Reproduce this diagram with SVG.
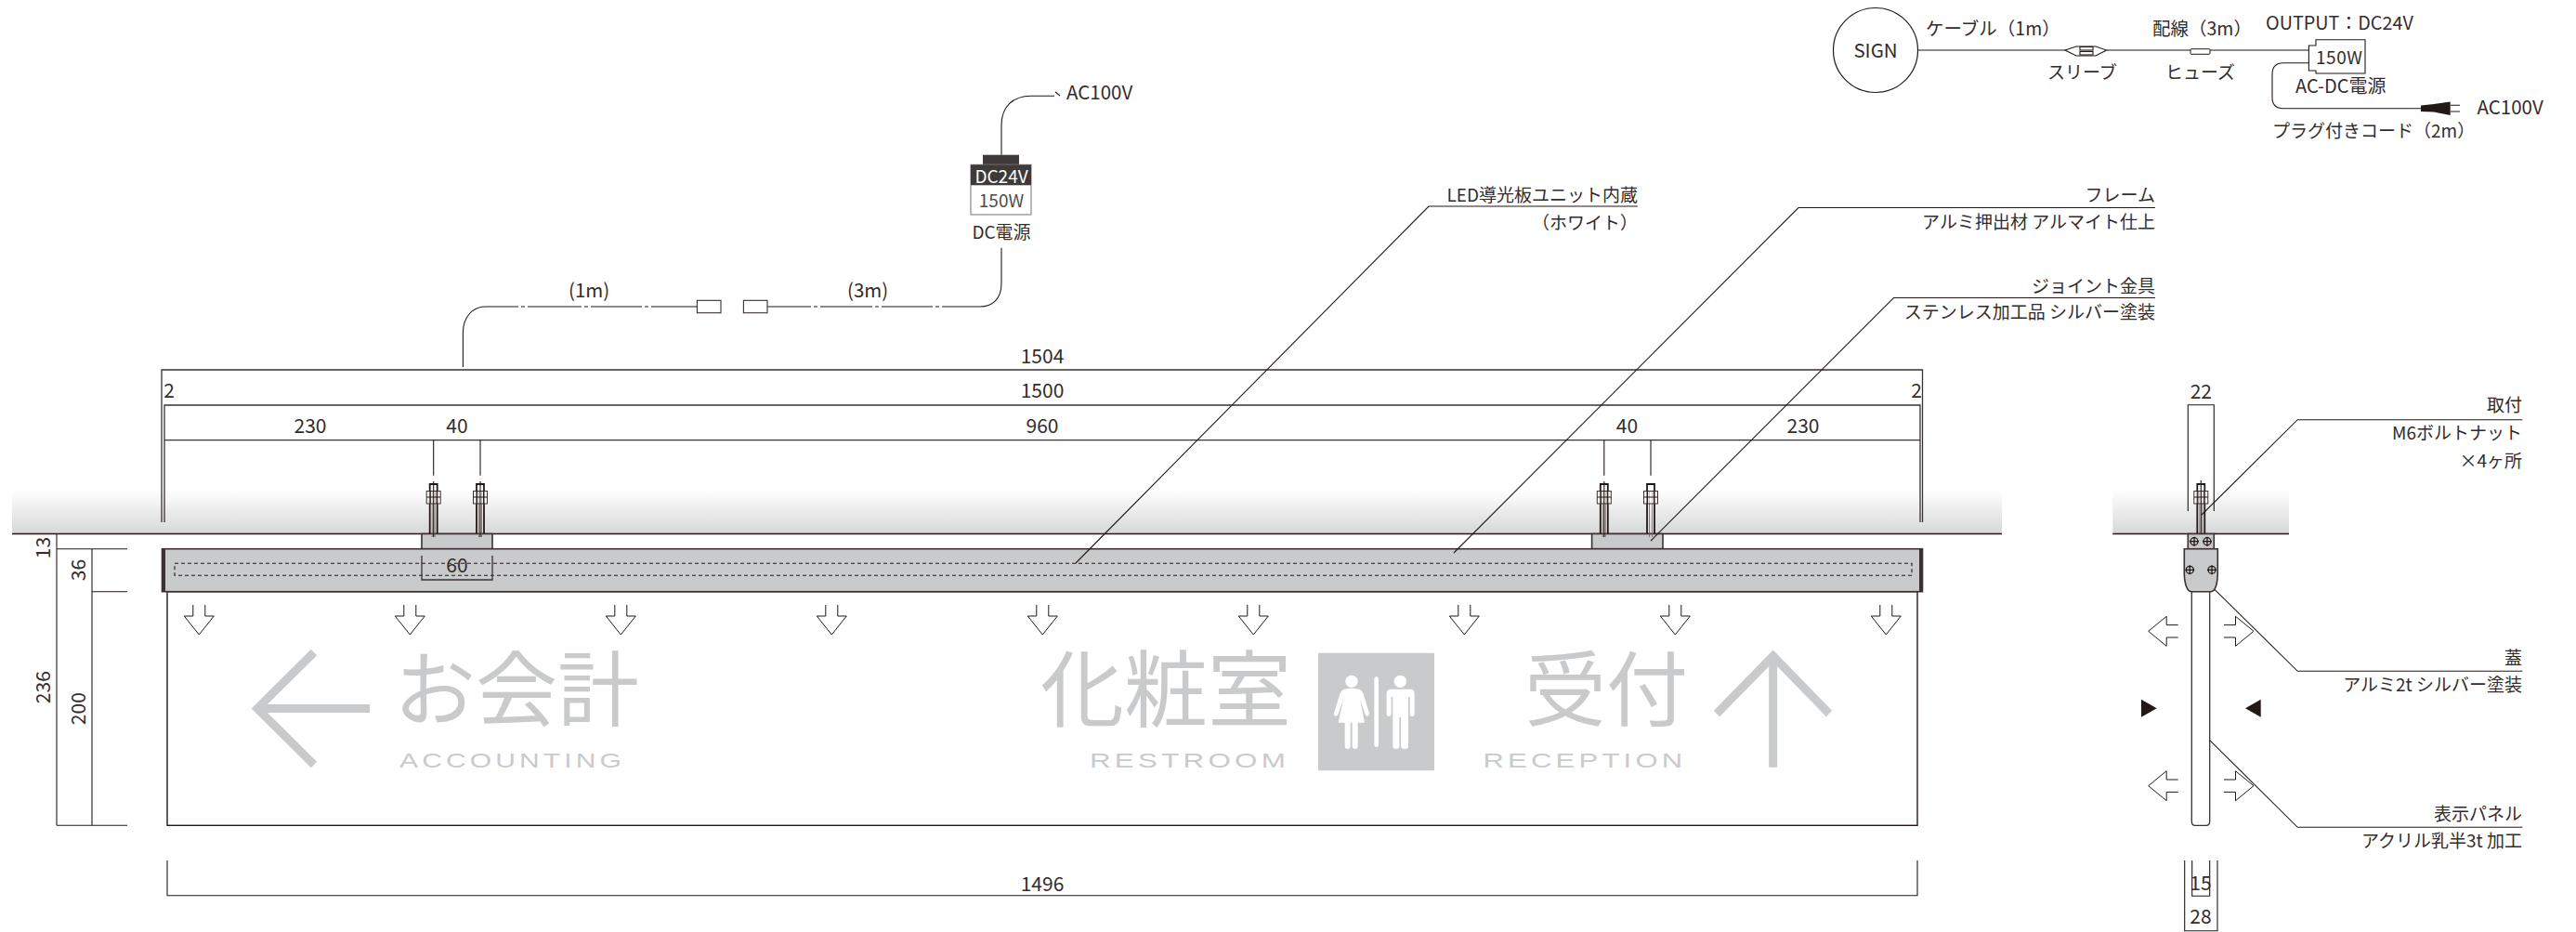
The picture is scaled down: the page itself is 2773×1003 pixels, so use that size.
<svg xmlns="http://www.w3.org/2000/svg" width="2773" height="1003" viewBox="0 0 2773 1003">
<style>
text{font-family:"Noto Sans CJK JP","Noto Sans",sans-serif;font-size:19px;fill:#332c2b}
.d{font-size:21px;text-anchor:middle}
.la{font-size:20.500px}
.r{text-anchor:end}
.m{text-anchor:middle}
.l{fill:none;stroke:#3a3130;stroke-width:1.300}
.t{fill:none;stroke:#231815;stroke-width:1.100}
.g{fill:#c9cacb;stroke:#3a3130;stroke-width:1.600}
.sg{fill:#c9cacb}
.big{font-size:90px;fill:#c9cacb}
.en{font-family:"Liberation Sans",sans-serif;font-size:22px;fill:#c9cacb;letter-spacing:3px}
.ar{fill:none;stroke:#c9cacb;stroke-width:9;stroke-miterlimit:10}
.a{fill:none;stroke:#231815;stroke-width:1}
</style>
<defs>
<linearGradient id="ceil" x1="0" y1="0" x2="0" y2="1"><stop offset="0" stop-color="#fff"/><stop offset="1" stop-color="#d6d7d8"/></linearGradient>
<g id="down"><path class="a" d="M-6.500 0V12H-16L0 32 16 12H6.500V0"/></g>
<g id="side"><path class="a" d="M32 -6.700H19.500V-16L0 0 19.500 16V6.700H32"/></g>
<g id="bolt">
<path d="M-4 53V0H4V53" style="fill:none;stroke:#231815;stroke-width:1.800"/>
<path d="M-1.500 8V57M1.500 8V57" style="fill:none;stroke:#6b6463;stroke-width:.8"/>
<rect x="-7.500" y="7.500" width="15" height="13.500" fill="#fff" fill-opacity=".5" stroke="#3a3130" stroke-width="1"/>
<path d="M-7.500 14H7.500M-3.500 7.500V21M3.500 7.500V21" class="t"/>
</g>
<g id="screw"><circle r="4" fill="#c9cacb" stroke="#231815" stroke-width="1.300"/><path d="M-5 0H5M0 -5V5" stroke="#231815" stroke-width="1.300"/></g>
</defs>

<g id="ceilings">
<rect x="13" y="527" width="2142" height="47.500" fill="url(#ceil)"/>
<path class="l" d="M13 574.500H2155" style="stroke-width:1.600;stroke:#231815"/>
<rect x="2274.300" y="527" width="189.700" height="47.500" fill="url(#ceil)"/>
<path class="l" d="M2274.300 574.500H2464" style="stroke-width:1.600;stroke:#231815"/>
</g>

<g id="front-view">
<rect id="panel" x="180" y="636.700" width="1884" height="251.600" fill="#fff" stroke="#231815" stroke-width="1.400"/>
<rect x="454" y="574.500" width="76" height="16.200" class="g"/>
<rect x="1713.600" y="574.500" width="76.400" height="16.200" class="g"/>
<rect id="frame" x="174.500" y="590.700" width="1895" height="46" class="g"/>
<path d="M176.500 591V636.500M2067.500 591V636.500" stroke="#3a3130" stroke-width="3" fill="none"/>
<rect x="188" y="606.300" width="1870" height="13" fill="none" stroke="#231815" stroke-width="1.100" stroke-dasharray="4 3"/>
<use href="#bolt" x="466.700" y="521"/>
<use href="#bolt" x="517" y="521"/>
<use href="#bolt" x="1726.800" y="521"/>
<use href="#bolt" x="1777" y="521"/>
<g id="arrows-down">
<use href="#down" x="214.300" y="651"/><use href="#down" x="441.300" y="651"/><use href="#down" x="668.300" y="651"/>
<use href="#down" x="895.300" y="651"/><use href="#down" x="1122.300" y="651"/><use href="#down" x="1349.300" y="651"/>
<use href="#down" x="1576.300" y="651"/><use href="#down" x="1803.300" y="651"/><use href="#down" x="2030.300" y="651"/>
</g>
</g>

<g id="sign-graphics">
<path class="ar" d="M338 702L277 762.500 338 823M277 762.500H398"/>
<text class="big" style="font-size:88px" x="424" y="774">お会計</text>
<text class="en" x="430" y="826" textLength="243" lengthAdjust="spacingAndGlyphs">ACCOUNTING</text>
<text class="big" x="1120" y="775">化粧室</text>
<text class="en" x="1173" y="826" textLength="215" lengthAdjust="spacingAndGlyphs">RESTROOM</text>
<g id="pictogram">
<rect x="1419" y="702.700" width="125" height="126.600" rx="1" class="sg"/>
<g transform="translate(1420 700) scale(.3333)" fill="#fff">
<circle cx="105" cy="100" r="20"/><circle cx="262" cy="100" r="20"/>
<rect x="178" y="85" width="14" height="227" rx="7"/>
<path d="M82 125Q105 120 130 125 138 127 142 138L162 203Q163 210 156 212 150 212 148 205L132 158 147 233H125V310Q125 318 116 318 107 318 107 310V233H101V310Q101 318 92 318 83 318 83 310V233H62L78 158 62 205Q60 212 53 212 46 210 48 203L68 138Q72 127 82 125Z"/>
<path d="M232 125H294Q308 125 308 140V205Q308 213 300 213 293 213 293 205V150H288V310Q288 318 277 318 264 318 264 310V215H259V310Q259 318 248 318 238 318 238 310V150H233V205Q233 213 225 213 218 213 218 205V140Q218 125 232 125Z"/>
</g>
</g>
<text class="big" style="font-size:88px" x="1641" y="774">受付</text>
<text class="en" x="1596.400" y="826" textLength="219" lengthAdjust="spacingAndGlyphs">RECEPTION</text>
<path class="ar" d="M1848 768L1908.700 706 1969 768M1908.700 706V825.700"/>
</g>

<g id="dimensions">
<path class="l" d="M174 562V398H2069.500V562"/>
<path class="l" d="M177 562V436H2067V562"/>
<path class="l" d="M177 473.700H2067"/>
<path class="t" d="M466.700 473.700V511.700M517 473.700V511.700M1726.800 473.700V511.700M1777 473.700V511.700M466.700 518V578M517 518V578M1726.800 518V578"/>
<path class="l" d="M454 598V624H530V598"/>
<path class="t" d="M61 888.300V574.500M99 888.300V590.700M61 574.500H137M61 590.700H137M99 636.700H137M61 888.300H137"/>
<path class="t" d="M180 926V963.700H2064V926"/>
<path class="t" d="M2355.300 550V435.700H2383.300V550"/>
<path class="t" d="M2351.700 926V1001.700H2387V926M2359.700 926V964.300H2378.700V926"/>
<text class="d" x="1122" y="390.700">1504</text>
<text class="d" x="1122" y="428">1500</text>
<text class="d" x="182" y="428">2</text>
<text class="d" x="2063" y="428">2</text>
<text class="d" x="334" y="466">230</text>
<text class="d" x="492" y="466">40</text>
<text class="d" x="1122" y="466">960</text>
<text class="d" x="1751.400" y="466">40</text>
<text class="d" x="1941" y="466">230</text>
<text class="d" x="492" y="616">60</text>
<text class="d" transform="translate(53.600 589.500) rotate(-90)">13</text>
<text class="d" transform="translate(91.500 613.500) rotate(-90)">36</text>
<text class="d" transform="translate(53.600 739.700) rotate(-90)">236</text>
<text class="d" transform="translate(91.500 762.700) rotate(-90)">200</text>
<text class="d" x="1122" y="959">1496</text>
<text class="d" x="2369.300" y="429.300">22</text>
<text class="d" x="2369" y="957.700">15</text>
<text class="d" x="2369" y="994">28</text>
</g>

<g id="side-view">
<use href="#bolt" x="2369.300" y="521"/>
<path class="t" d="M2369.300 517V581"/>
<rect x="2355.300" y="574.500" width="28" height="16.200" class="g"/>
<use href="#screw" x="2362" y="582.700"/><use href="#screw" x="2376" y="582.700"/>
<path class="l" d="M2359.300 636.700V884Q2359.300 888.300 2363 888.300H2375Q2378.700 888.300 2378.700 884V636.700"/>
<path class="g" d="M2351.300 590.700H2387.300V616C2387.300 627 2385 636.700 2380 636.700H2359C2354 636.700 2351.300 627 2351.300 616Z"/>
<use href="#screw" x="2357.300" y="613.300"/><use href="#screw" x="2381" y="613.300"/>
<use href="#side" x="2312.700" y="679.300"/>
<use href="#side" transform="translate(2426 679.300) scale(-1 1)"/>
<use href="#side" x="2312.700" y="845.700"/>
<use href="#side" transform="translate(2426 845.700) scale(-1 1)"/>
<path fill="#231815" d="M2305 752.700V771.700L2321.700 762.200ZM2433.700 752.700V771.700L2417 762.200Z"/>
</g>

<g id="connectors">
<path class="t" d="M1763 222H1538L1158 606"/>
<path class="t" d="M2320 223.500H1936L1565 595"/>
<path class="t" d="M2320 320.500H2038.500L1777 582"/>
<path class="t" d="M2715.300 451.700H2473.300L2370 554"/>
<path class="t" d="M2384 634.300L2473.300 722.300H2715.300"/>
<path class="t" d="M2378.700 796.700L2473.300 890.300H2715.300"/>
<path class="t" d="M1135 103.300H1110C1090 103.300 1078 115 1078 135V166.700"/>
<path class="t" d="M1136 99L1141 103"/>
<path class="t" d="M1078 266.700V305C1078 322 1068 330 1055 330H1014M1011 330H1007M1004 330H949M946 330H942M939 330H883M880 330H876M873 330H826"/>
<path class="t" d="M750.400 330H701M698 330H694M691 330H636M633 330H629M626 330H568M565 330H561M558 330H523C508 330 498.400 342 498.400 358V395"/>
<path class="t" d="M2064.300 54H2223M2267.600 54H2358M2379 54H2485.400"/>
<path class="t" d="M2485.400 67.700H2458C2450 67.700 2446 72 2446 80V105C2446 113 2450 116.700 2458 116.700H2606"/>
</g>

<g id="psu-left">
<rect x="1058" y="166.700" width="39" height="11" fill="#3e3a39"/>
<rect x="1045" y="177.300" width="65" height="53.700" fill="#fff" stroke="#8a8a8a" stroke-width="1.200"/>
<rect x="1045" y="177.300" width="65" height="22" fill="#3e3a39"/>
<text class="m" x="1078" y="196.700" style="fill:#fff">DC24V</text>
<text class="m" x="1078" y="223" style="fill:#4d4d4d">150W</text>
<text class="m" x="1078" y="257">DC電源</text>
<text class="la" x="1148" y="106.700">AC100V</text>
</g>
<g id="connector-boxes">
<rect x="750.400" y="323.300" width="25.600" height="13.400" fill="#fff" stroke="#3a3130" stroke-width="1.100"/>
<rect x="800.400" y="323.300" width="25.600" height="13.400" fill="#fff" stroke="#3a3130" stroke-width="1.100"/>
<text class="la" x="612" y="320">(1m)</text>
<text class="la" x="912" y="320">(3m)</text>
</g>

<g id="sign-node">
<circle cx="2019" cy="54" r="45.500" fill="#fff" stroke="#231815" stroke-width="1.200"/>
<text class="m la" x="2019" y="62">SIGN</text>
</g>
<g id="sleeve">
<path class="t" d="M2223 54L2235 50H2256L2267.600 54 2256 60H2235Z"/>
<rect x="2239" y="50.500" width="14" height="3.500" class="t"/>
<rect x="2239" y="55.500" width="14" height="3.500" class="t"/>
<text x="2204" y="85">スリーブ</text>
</g>
<g id="fuse">
<rect x="2358" y="52.700" width="21" height="5.600" rx="1" fill="#fff" stroke="#231815" stroke-width="1"/>
<text x="2331" y="85">ヒューズ</text>
</g>
<g id="psu-right">
<path fill="#fff" stroke="#231815" stroke-width="1.100" d="M2493 42.700H2546V79H2493V76H2485.400V49H2493Z"/>
<text x="2493" y="69" textLength="50">150W</text>
<text style="font-size:20px" x="2471" y="100">AC-DC電源</text>
<text style="font-size:19.800px" x="2439" y="32">OUTPUT：DC24V</text>
</g>
<g id="plug">
<path fill="#231815" d="M2606 113.500L2620 112 2637.700 109.500V124L2620 120.500 2606 120Z"/>
<path class="t" d="M2638 113.300H2648M2638 120H2648"/>
<text class="la" x="2666.500" y="122.700">AC100V</text>
<text x="2446" y="148">プラグ付きコード（2m）</text>
</g>
<g id="top-labels">
<text style="font-size:19.500px" x="2073" y="38">ケーブル（1m）</text>
<text style="font-size:19.500px" x="2317" y="38">配線（3m）</text>
</g>
<g id="notes">
<text class="r" x="1763" y="217">LED導光板ユニット内蔵</text>
<text class="r" x="1763" y="246.500">（ホワイト）</text>
<text class="r" x="2320" y="217">フレーム</text>
<text class="r" x="2320" y="245.500">アルミ押出材 アルマイト仕上</text>
<text class="r" x="2320" y="314.500">ジョイント金具</text>
<text class="r" x="2320" y="342.500">ステンレス加工品 シルバー塗装</text>
<text class="r" x="2715" y="443">取付</text>
<text class="r" x="2715" y="473">M6ボルトナット</text>
<text class="r" x="2715" y="503.300">×4ヶ所</text>
<text class="r" x="2715" y="715">蓋</text>
<text class="r" x="2715" y="744">アルミ2t シルバー塗装</text>
<text class="r" x="2715" y="883">表示パネル</text>
<text class="r" x="2715" y="912">アクリル乳半3t 加工</text>
</g>
</svg>
